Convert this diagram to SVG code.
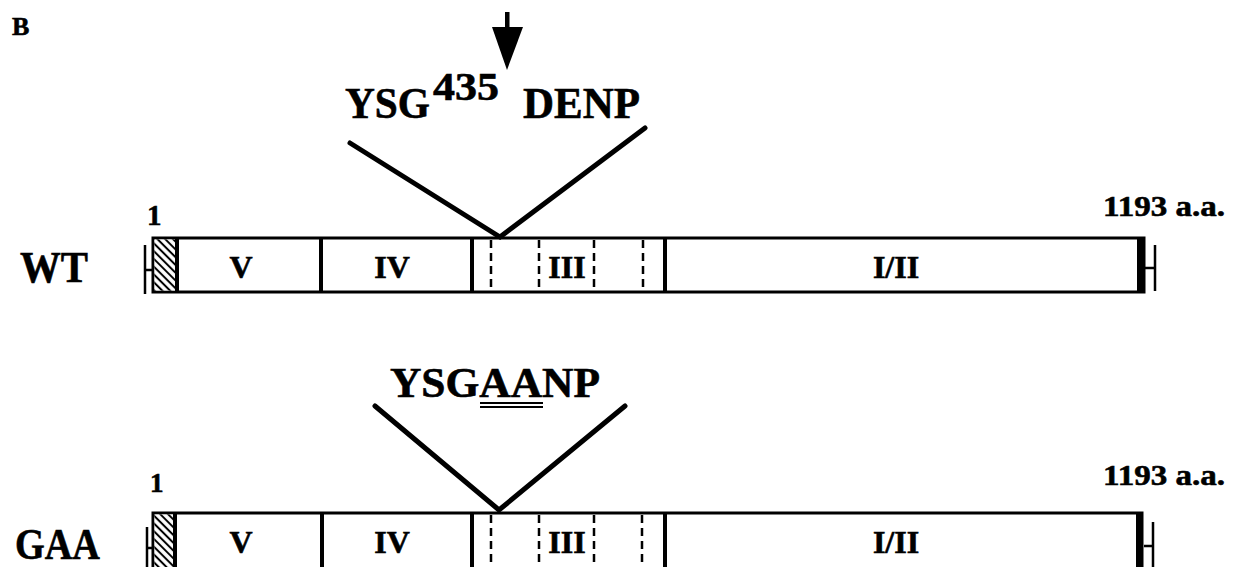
<svg xmlns="http://www.w3.org/2000/svg" width="1240" height="567" viewBox="0 0 1240 567">
<defs>
<pattern id="hatch" patternUnits="userSpaceOnUse" width="5.5" height="5.5" patternTransform="rotate(45)">
<rect width="5.5" height="5.5" fill="#fff"/>
<line x1="0" y1="2.75" x2="5.5" y2="2.75" stroke="#000" stroke-width="2"/>
</pattern>
</defs>
<style>
text{font-family:"Liberation Serif","Times New Roman",serif;font-weight:bold;fill:#000;stroke:#000;stroke-width:0.6}
.box{fill:#fff;stroke:#000;stroke-width:3}
.div{stroke:#000;stroke-width:4}
.dash{stroke:#000;stroke-width:2.5;stroke-dasharray:8,5}
.tick{stroke:#000;stroke-width:2.5;fill:none}
.vline{stroke:#000;stroke-width:5;stroke-linecap:round;fill:none}
.dom{font-size:32px;text-anchor:middle}
.big{font-size:44px}
.num{font-size:30px}
</style>
<rect width="1240" height="567" fill="#fff"/>
<text x="12" y="35" style="font-size:26px">B</text>

<g id="wt">
<text x="20" y="282" class="big" textLength="68" lengthAdjust="spacingAndGlyphs">WT</text>
<text x="147" y="225" style="font-size:29px">1</text>
<text x="1103" y="216" class="num" textLength="122" lengthAdjust="spacingAndGlyphs">1193 a.a.</text>
<path class="tick" d="M145 245V294M145 270H153M1155 245V291M1145 268H1155"/>
<rect class="box" x="153" y="238" width="991" height="54"/>
<rect x="154.5" y="239.5" width="22" height="51" fill="url(#hatch)"/>
<line class="div" x1="177" y1="238" x2="177" y2="292"/>
<line class="div" x1="321" y1="238" x2="321" y2="292"/>
<line class="div" x1="472" y1="238" x2="472" y2="292"/>
<line class="div" x1="665" y1="238" x2="665" y2="292"/>
<line class="dash" x1="491" y1="240" x2="491" y2="292"/>
<line class="dash" x1="539" y1="240" x2="539" y2="292"/>
<line class="dash" x1="594" y1="240" x2="594" y2="292"/>
<line class="dash" x1="643" y1="240" x2="643" y2="292"/>
<rect x="1137" y="237" width="8" height="56" fill="#000"/>
<text x="241" y="278" class="dom">V</text>
<text x="392" y="278" class="dom">IV</text>
<text x="567" y="278" class="dom">III</text>
<text x="896" y="278" class="dom">I/II</text>
</g>

<g id="wt-site">
<text x="345" y="118" class="big" textLength="85" lengthAdjust="spacingAndGlyphs">YSG</text>
<text x="433" y="100" style="font-size:40px" textLength="66" lengthAdjust="spacingAndGlyphs">435</text>
<text x="523" y="118" class="big" textLength="117" lengthAdjust="spacingAndGlyphs">DENP</text>
<rect x="505" y="12" width="4.5" height="18" fill="#000"/>
<polygon points="492,27 523,27 507,70" fill="#000"/>
</g>

<g id="gaa">
<text x="15" y="559" class="big" textLength="85" lengthAdjust="spacingAndGlyphs">GAA</text>
<text x="150" y="492" style="font-size:27px">1</text>
<text x="1103" y="485" class="num" textLength="122" lengthAdjust="spacingAndGlyphs">1193 a.a.</text>
<path class="tick" d="M147 527V570M147 548H153M1153 522V570M1144 546H1153"/>
<rect class="box" x="153" y="513" width="989" height="60"/>
<rect x="154.5" y="514.5" width="20" height="58" fill="url(#hatch)"/>
<line class="div" x1="175" y1="513" x2="175" y2="570"/>
<line class="div" x1="322" y1="513" x2="322" y2="570"/>
<line class="div" x1="472" y1="513" x2="472" y2="570"/>
<line class="div" x1="665" y1="513" x2="665" y2="570"/>
<line class="dash" x1="491" y1="515" x2="491" y2="570"/>
<line class="dash" x1="539" y1="515" x2="539" y2="570"/>
<line class="dash" x1="594" y1="515" x2="594" y2="570"/>
<line class="dash" x1="642" y1="515" x2="642" y2="570"/>
<rect x="1136" y="512" width="7" height="60" fill="#000"/>
<text x="241" y="553" class="dom">V</text>
<text x="392" y="553" class="dom">IV</text>
<text x="567" y="553" class="dom">III</text>
<text x="896" y="553" class="dom">I/II</text>
</g>

<g id="gaa-site">
<text x="390" y="397" style="font-size:42px" textLength="210" lengthAdjust="spacingAndGlyphs">YSGAANP</text>
<path d="M480 403H543M480 407H543" stroke="#000" stroke-width="1.8"/>
</g>

<g id="connectors">
<path class="vline" d="M350 143L500 237L645 128"/>
<path class="vline" d="M375 406L499 510L625 406"/>
</g>
</svg>
